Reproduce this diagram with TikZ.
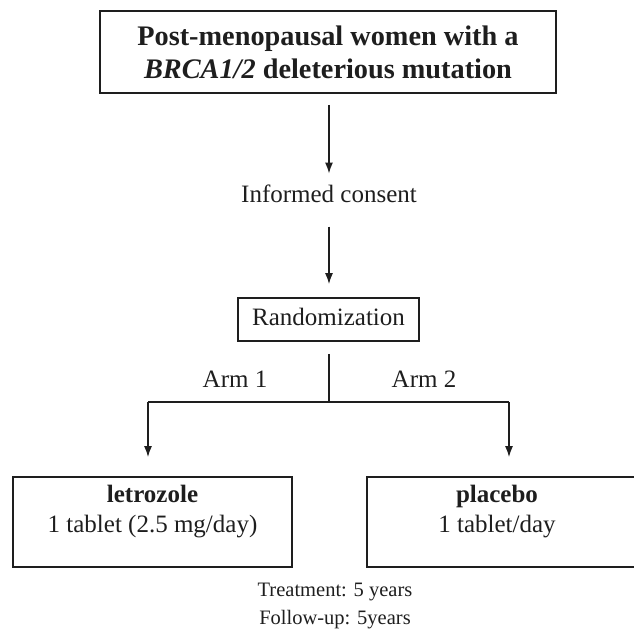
\documentclass[tikz,border=0pt]{standalone}
\usepackage{fontspec}
\setmainfont{Liberation Serif}
\usetikzlibrary{arrows.meta}
\definecolor{ink}{HTML}{1E1E1E}
\begin{document}
\begin{tikzpicture}[x=1pt,y=-1pt,
  every node/.style={text=ink},
  frame/.style={draw=ink, line width=1.8pt, inner sep=0pt},
  body/.style={font=\fontsize{25}{30}\selectfont, inner sep=0pt, text height=17pt, text depth=6pt},
  link/.style={draw=ink, line width=1.3pt},
  arr/.style={link, -{Latex[length=11pt,width=8pt]}}
]
\useasboundingbox (0,0) rectangle (633,634);

% eligibility box
\node[frame, minimum width=456pt, minimum height=82pt, align=center,
      font=\fontsize{28.3}{33}\selectfont\bfseries] (elig) at (328,52)
  {Post-menopausal women with a\\\textit{BRCA1/2} deleterious mutation};

\node[body] (consent) at (329,197) {Informed consent};

\node[frame, body, minimum width=181pt, minimum height=43pt] (rand) at (328.5,319.5) {Randomization};

% split point and branch corners
\coordinate (split) at (329,402);
\coordinate (cl) at (148,402);
\coordinate (cr) at (509,402);

\node[body] (arm1) at (235,382) {Arm 1};
\node[body] (arm2) at (424,382) {Arm 2};

% treatment boxes
\node[frame, minimum width=279pt, minimum height=90pt] (letro) at (152.5,522) {};
\node[frame, minimum width=280pt, minimum height=90pt] (plac) at (507,522) {};
\node[align=center, font=\fontsize{25}{30}\selectfont, inner sep=0pt] (letroText) at (152.5,512)
  {\textbf{letrozole}\\1 tablet (2.5 mg/day)};
\node[align=center, font=\fontsize{25}{30}\selectfont, inner sep=0pt] (placText) at (497,512)
  {\textbf{placebo}\\1 tablet/day};

\node[align=center, font=\fontsize{20.5}{28}\selectfont, inner sep=0pt] (dur) at (335,606)
  {Treatment: 5 years\\Follow-up: 5years};

% connectors
\draw[arr, shorten <=11pt, shorten >=23.5pt] (elig.south -| consent) -- (consent.center);
\draw[arr, shorten <=18pt, shorten >=13pt] (consent.south) -- (consent.south |- rand.north);
\draw[link, shorten <=12pt] (rand.south -| split) -- (split);
\draw[link] (cl) -- (cr);
\draw[arr, shorten >=19pt] (cl) -- (cl |- letro.north);
\draw[arr, shorten >=19pt] (cr) -- (cr |- plac.north);
\end{tikzpicture}
\end{document}
